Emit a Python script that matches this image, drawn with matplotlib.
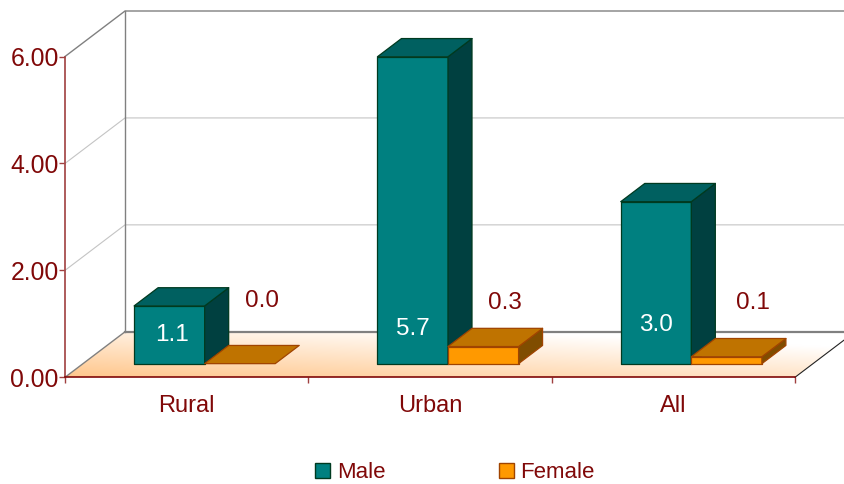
import numpy as np
import matplotlib
matplotlib.use('Agg')
import matplotlib.pyplot as plt
from matplotlib.patches import Polygon, Patch

plt.rcParams['font.family'] = ['Liberation Sans', 'DejaVu Sans']

categories = ['Rural', 'Urban', 'All']
male = [1.08, 5.74, 3.03]
female = [0.0, 0.32, 0.13]
male_labels = ['1.1', '5.7', '3.0']
female_labels = ['0.0', '0.3', '0.1']
yticks = [0, 2, 4, 6]

red = '#800808'
W, H = 845, 484
left, right, top, bottom = 65, 795, 56.5, 377.3
depth_px = (60, 45.5)

fig = plt.figure(figsize=(W / 100, H / 100), dpi=100)
ax = fig.add_axes([left / W, 1 - bottom / H, (right - left) / W, (bottom - top) / H])
ax.set_xlim(0, 3)
ax.set_ylim(0, 6)
ax.patch.set_visible(False)

# size of the full floor depth in data units
ddx = depth_px[0] * 3 / (right - left)
ddy = depth_px[1] * 6 / (bottom - top)


def pt(x, y, d=0.0):
    return (x + d * ddx, y + d * ddy)


# floor with gradient
grad_x = np.linspace(0, 1, 200)
grad_y = np.linspace(0, 1, 60)
gx, gy = np.meshgrid(grad_x, grad_y)
t = np.clip(0.55 * gx + 0.7 * gy, 0, 1)
c0 = np.array([1.0, 0.78, 0.55])
c1 = np.array([1.0, 1.0, 1.0])
img = c0 + (c1 - c0) * t[..., None]
floor = Polygon([pt(0, 0), pt(0, 0, 1), pt(3, 0, 1), pt(3, 0)], closed=True,
                transform=ax.transData, fc='none', ec='none')
ax.add_patch(floor)
im = ax.imshow(img, extent=(0, 3 + ddx, 0, ddy), origin='lower', aspect='auto', zorder=1)
im.set_clip_box(fig.bbox)
im.set_clip_path(floor)
ax.set_xlim(0, 3)
ax.set_ylim(0, 6)

# gridlines on side and back wall
for v in yticks[1:-1]:
    ax.plot(*zip(pt(0, v), pt(0, v, 1), pt(3, v, 1)), color='#C4C4C4', lw=0.8,
            clip_on=False, zorder=2)
# wall frame
ax.plot(*zip(pt(0, 6), pt(0, 6, 1), pt(3, 6, 1)), color='#808080', lw=1.0, clip_on=False, zorder=2)
ax.plot(*zip(pt(0, 0, 1), pt(0, 6, 1)), color='#808080', lw=1.0, clip_on=False, zorder=2)
ax.plot(*zip(pt(0, 0), pt(0, 0, 1)), color='#808080', lw=1.0, clip_on=False, zorder=2)
ax.plot(*zip(pt(0, 0, 1), pt(3, 0, 1)), color='#808080', lw=1.6, clip_on=False, zorder=2)
ax.plot(*zip(pt(3, 0), pt(3, 0, 1)), color='#222222', lw=0.8, clip_on=False, zorder=2)


def bar3d(x0, w, h, front, topc, side, edge, z):
    d0, d1 = 0.3, 0.7
    faces = []
    if h > 0:
        faces.append(([pt(x0, 0, d0), pt(x0 + w, 0, d0), pt(x0 + w, h, d0), pt(x0, h, d0)], front))
        faces.append(([pt(x0 + w, 0, d0), pt(x0 + w, 0, d1), pt(x0 + w, h, d1), pt(x0 + w, h, d0)], side))
    faces.append(([pt(x0, h, d0), pt(x0 + w, h, d0), pt(x0 + w, h, d1), pt(x0, h, d1)], topc))
    for verts, col in faces:
        ax.add_patch(Polygon(verts, closed=True, fc=col, ec=edge, lw=0.9, clip_on=False,
                             joinstyle='round', zorder=z))


bar_w = 0.29
gap = (1 - 2 * bar_w) / 2
for i in range(len(categories)):
    bar3d(i + gap, bar_w, male[i], '#008080', '#006060', '#004040', '#003A20', 3)
    bar3d(i + gap + bar_w, bar_w, female[i], '#FF9900', '#BF7300', '#804D00', '#A04400', 4)

# data label anchors in pixels
male_label_x = [172, 413, 656]
male_label_y = [335, 329, 325]
female_label_x = [262, 505, 753]
female_label_y = [301, 303, 303]
data_x = lambda x: (x - left) * 3 / (right - left)
data_y = lambda y: (bottom - y) * 6 / (bottom - top)
for i in range(len(categories)):
    ax.text(data_x(male_label_x[i]), data_y(male_label_y[i]), male_labels[i], color='white',
            fontsize=17.5, ha='center', va='center', zorder=6)
    ax.text(data_x(female_label_x[i]), data_y(female_label_y[i]), female_labels[i], color=red,
            fontsize=17.5, ha='center', va='center', zorder=6)

# axes
for s in ['top', 'right']:
    ax.spines[s].set_visible(False)
ax.spines['left'].set_color('#A04040')
ax.spines['left'].set_linewidth(1.2)
ax.spines['bottom'].set_color(red)
ax.spines['bottom'].set_linewidth(1.2)
ax.spines['left'].set_zorder(5)
ax.spines['bottom'].set_zorder(5)
ax.set_yticks(yticks)
ax.set_yticklabels([f'{v:.2f}' for v in yticks], fontsize=17.8, color=red)
ax.tick_params(axis='y', length=4.5, width=1, color='#A04040', pad=0)
ax.set_xticks(range(len(categories) + 1))
ax.set_xticklabels([])
ax.tick_params(axis='x', length=4, width=1, color='#A04040')
ax.set_xticks([i + 0.5 for i in range(len(categories))], minor=True)
ax.set_xticklabels(categories, minor=True, fontsize=17, color=red)
ax.tick_params(axis='x', which='minor', length=0, pad=13)

handles = [Patch(fc='#008080', ec='#003A20', lw=1), Patch(fc='#FF9900', ec='#A04400', lw=1)]
fig.legend(handles, ['Male', 'Female'], loc='center', bbox_to_anchor=(455 / W, 1 - 473 / H), ncol=2,
           frameon=False, fontsize=16, labelcolor=red, handlelength=0.67, handleheight=0.67,
           handletextpad=0.3, columnspacing=5.1, borderpad=0, borderaxespad=0)

fig.savefig('out.png', dpi=100)
